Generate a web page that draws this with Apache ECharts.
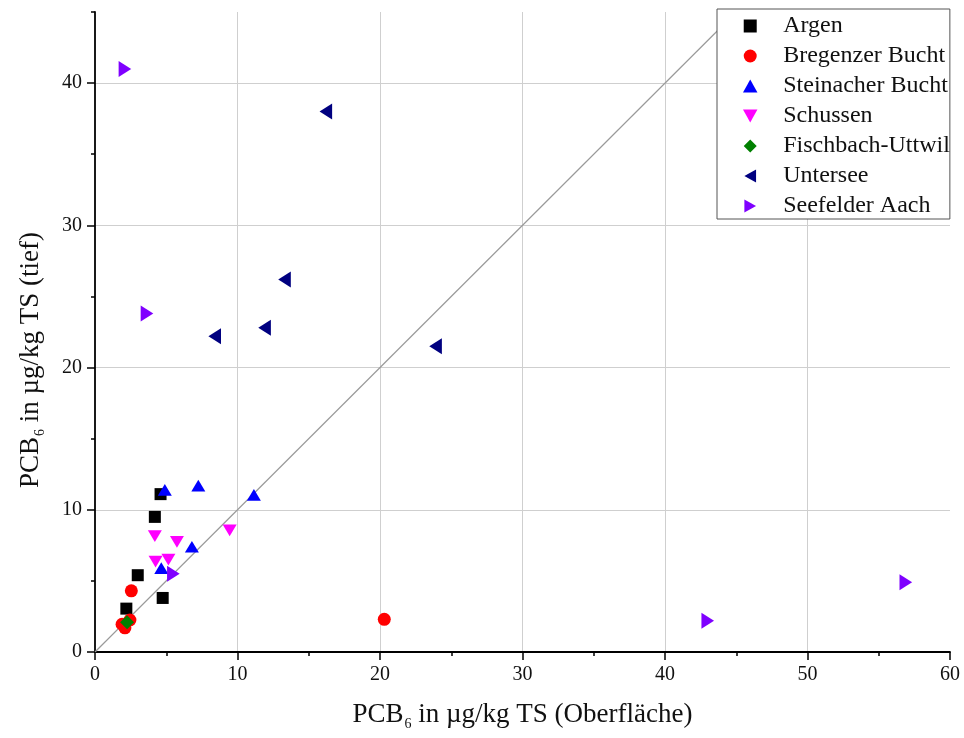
<!DOCTYPE html>
<html>
<head>
<meta charset="utf-8">
<script src="https://cdn.jsdelivr.net/npm/echarts@6/dist/echarts.min.js"></script>
<style>html,body{margin:0;padding:0;background:#fff;}#c{width:964px;height:738px;}</style>
</head>
<body>
<div id="c"></div>
<script>
// ---- data (x = Oberfläche, y = tief), µg/kg TS ----
const seriesNames = ['Argen','Bregenzer Bucht','Steinacher Bucht','Schussen','Fischbach-Uttwil','Untersee','Seefelder Aach'];
const argen = [[4.6,11.1],[4.2,9.5],[3.0,5.4],[4.75,3.8],[2.2,3.05]];
const bregenzer = [[2.55,4.3],[1.9,1.95],[2.1,1.7],[2.45,2.25],[20.3,2.3]];
const steinacher = [[4.9,11.4],[7.25,11.7],[11.15,11.05],[6.8,7.4],[4.65,5.9]];
const schussen = [[4.2,8.15],[5.75,7.75],[9.45,8.55],[4.25,6.35],[5.15,6.5]];
const fischbach = [[2.25,2.1]];
const untersee = [[16.2,38.0],[13.3,26.2],[8.4,22.2],[11.9,22.8],[23.9,21.5]];
const seefelder = [[5.5,5.5],[2.1,41.0],[3.65,23.8],[43.0,2.2],[56.9,4.9]];
const diagonal = [[0,0],[45,45]];
const xTicks = [0,10,20,30,40,50,60];
const yTicks = [0,10,20,30,40];

const serif = '"Liberation Serif","DejaVu Serif",serif';
const symSquare = 'path://M0,0L10,0L10,10L0,10Z';
const symDiamond = 'path://M5,0L10,5L5,10L0,5Z';
const symUp = 'path://M5,0L10,9L0,9Z';
const symDown = 'path://M0,0L10,0L5,9Z';
const symLeft = 'path://M9,0L9,10L0,5Z';
const symRight = 'path://M0,0L0,10L9,5Z';

const chart = echarts.init(document.getElementById('c'));
function rich(padEnd) {
  return {
    a: {fontFamily: serif, fontSize: 27, color: '#111', lineHeight: 30, verticalAlign: 'top'},
    s: {fontFamily: serif, fontSize: 14, color: '#111', lineHeight: 14, verticalAlign: 'bottom', padding: [25,0,0,1]},
    e: {fontSize: 10, lineHeight: 30, verticalAlign: 'top', width: padEnd}
  };
}
function sc(name, data, symbol, size, color) {
  return {name, type: 'scatter', data, symbol, symbolSize: size, symbolKeepAspect: true,
    itemStyle: {color, opacity: 1}, z: 3};
}
chart.setOption({
  animation: false,
  backgroundColor: '#fff',
  grid: {left: 95, right: 14, top: 12, bottom: 86, containLabel: false},
  legend: {
    orient: 'vertical', left: 717, top: 9,
    data: seriesNames,
    itemWidth: 56, itemHeight: 13, itemGap: 6,
    padding: [5, 0, 1, 26],
    borderColor: '#555', borderWidth: 1, backgroundColor: '#fff',
    textStyle: {fontFamily: serif, fontSize: 24, color: '#111', lineHeight: 24},
    selectedMode: false
  },
  xAxis: {
    type: 'value', min: 0, max: 60, interval: 10,
    name: '{a|PCB}{s|6}{a| in µg/kg TS (Oberfläche)}',
    nameLocation: 'middle', nameGap: 49,
    nameTextStyle: {rich: rich(0)},
    axisLine: {show: true, onZero: false, lineStyle: {color: '#000', width: 1.8}},
    axisTick: {show: true, length: 8, lineStyle: {color: '#000', width: 1.5}},
    minorTick: {show: true, splitNumber: 2, length: 4, lineStyle: {color: '#000', width: 1.5}},
    axisLabel: {fontFamily: serif, fontSize: 20, color: '#111', margin: 13,
      formatter: v => xTicks.includes(v) ? String(v) : ''},
    splitLine: {show: true, showMinLine: false, showMaxLine: false, lineStyle: {color: '#cfcfcf', width: 1}}
  },
  yAxis: [{
    type: 'value', min: 0, max: 45, interval: 10, position: 'left',
    name: '{a|PCB}{s|6}{a| in µg/kg TS (tief)}{e|}',
    nameLocation: 'middle', nameGap: 48, nameRotate: 90,
    nameTextStyle: {rich: rich(56)},
    axisLine: {show: true, onZero: false, lineStyle: {color: '#000', width: 1.8}},
    axisTick: {show: true, length: 8, lineStyle: {color: '#000', width: 1.5}},
    axisLabel: {fontFamily: serif, fontSize: 20, color: '#111', margin: 13, showMaxLabel: false,
      formatter: v => yTicks.includes(v) ? String(v) : ''},
    splitLine: {show: true, showMinLine: false, showMaxLine: false, lineStyle: {color: '#cfcfcf', width: 1}}
  }, {
    type: 'value', min: 0, max: 45, interval: 5, position: 'left', offset: 0,
    axisLine: {show: false}, axisLabel: {show: false}, splitLine: {show: false},
    axisTick: {show: true, length: 4, lineStyle: {color: '#000', width: 1.5}}
  }],
  series: [
    {type: 'line', data: diagonal, symbol: 'none', silent: true, z: 1,
      lineStyle: {color: '#9a9a9a', width: 1.2}},
    sc('Argen', argen, symSquare, 12, '#000000'),
    sc('Bregenzer Bucht', bregenzer, 'circle', 13, '#ff0000'),
    sc('Steinacher Bucht', steinacher, symUp, [14,13], '#0000ff'),
    sc('Schussen', schussen, symDown, [14,13], '#ff00ff'),
    sc('Fischbach-Uttwil', fischbach, symDiamond, 14, '#008000'),
    sc('Untersee', untersee, symLeft, [14,16], '#000080'),
    sc('Seefelder Aach', seefelder, symRight, [14,16], '#7f00ff')
  ]
});
</script>
</body>
</html>
